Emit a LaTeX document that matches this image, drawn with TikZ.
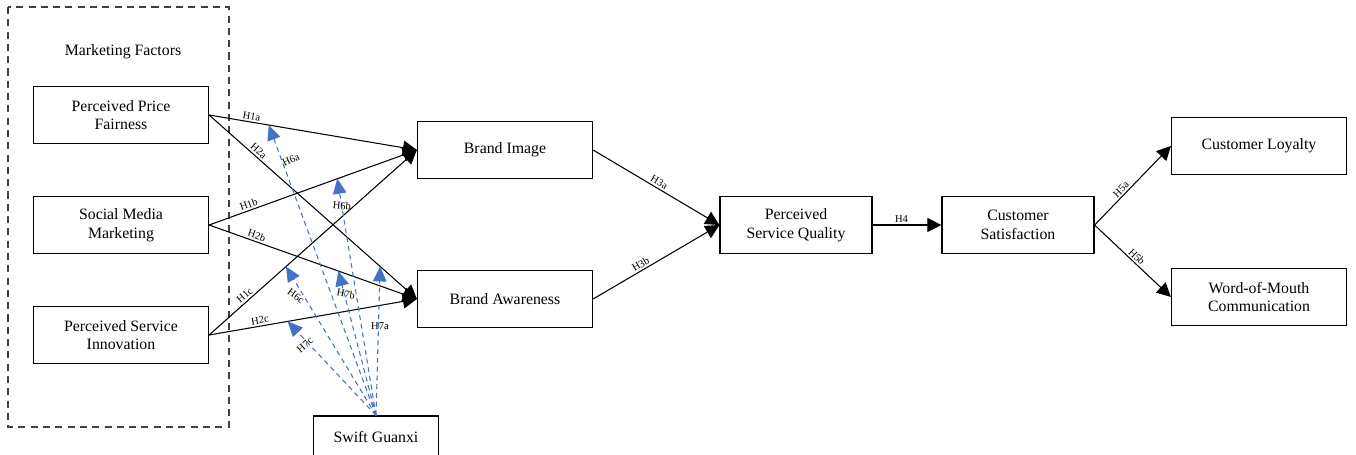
\documentclass[tikz,border=0pt]{standalone}
\usepackage{fontspec}
\setmainfont{Liberation Serif}
\usetikzlibrary{arrows.meta}
\definecolor{guanxi}{HTML}{4472C4}

\begin{document}
\begin{tikzpicture}[x=0.02cm, y=-0.02cm,
    box/.style={draw, line width=0.7pt, minimum width=3.5cm, minimum height=1.14cm,
      align=center, inner sep=2pt, font=\fontsize{9}{10.5}\selectfont},
    link/.style={-{Triangle[length=0.28cm,width=0.28cm]}, line width=0.6pt},
    modarrow/.style={draw=guanxi, dash pattern=on 2.8pt off 2.2pt, line width=0.6pt,
      -{Triangle[length=0.3cm,width=0.27cm]}},
    hlab/.style={font=\fontsize{6}{7}\selectfont, sloped, above, inner sep=1pt},
    mlab/.style={font=\fontsize{6}{7}\selectfont, inner sep=1pt}]
  \useasboundingbox (0,0) rectangle (1356,454);
  % 虚线框：营销因素
  \draw[darkgray, line width=0.75pt, dash pattern=on 4pt off 3pt] (8,7) rectangle (229,427);
  \node[font=\fontsize{9}{10.5}\selectfont] (mf) at (123,52) {Marketing Factors};
  % 各变量方框
  \node[box] (ppf) at (121,115) {Perceived Price\\Fairness};
  \node[box] (smm) at (121,225) {Social Media\\Marketing};
  \node[box] (psi) at (121,335) {Perceived Service\\Innovation};
  \node[box] (bi) at (505,150) {Brand Image};
  \node[box] (ba) at (505,299) {Brand Awareness};
  \node[box, minimum width=3.04cm] (psq) at (796,225) {Perceived\\Service Quality};
  \node[box, minimum width=3.04cm] (cs) at (1018,225) {Customer\\Satisfaction};
  \node[box] (cl) at (1259,146) {Customer Loyalty};
  \node[box] (wom) at (1259,297) {Word-of-Mouth\\Communication};
  \node[box, minimum width=2.5cm, minimum height=0.84cm] (sg) at (376,437) {Swift Guanxi};
  % H1、H2：营销因素 -> 品牌形象 / 品牌认知
  \draw[link] (ppf.east) -- node[hlab, pos=0.2] {H1a} coordinate[pos=0.287] (m1a) (bi.west);
  \draw[link] (smm.east) -- node[hlab, pos=0.2] {H1b} coordinate[pos=0.617] (m1b) (bi.west);
  \draw[link] (psi.east) -- node[hlab, pos=0.19] {H1c} coordinate[pos=0.37] (m1c) (bi.west);
  \draw[link] (ppf.east) -- node[hlab, pos=0.22] {H2a} coordinate[pos=0.823] (m2a) (ba.west);
  \draw[link] (smm.east) -- node[hlab, pos=0.22] {H2b} coordinate[pos=0.622] (m2b) (ba.west);
  \draw[link] (psi.east) -- node[hlab, pos=0.25] {H2c} coordinate[pos=0.378] (m2c) (ba.west);
  % H3 -- H5
  \draw[link] (bi.east) -- node[hlab, pos=0.5] {H3a} (psq.west);
  \draw[link] (ba.east) -- node[hlab, pos=0.4] {H3b} (psq.west);
  \draw[link] (psq.east) -- node[hlab, pos=0.42] {H4} (cs.west);
  \draw[link] (cs.east) -- node[hlab, pos=0.4] {H5a} (cl.west);
  \draw[link] (cs.east) -- node[hlab, pos=0.5] {H5b} (wom.west);
  % 调节作用：Swift Guanxi（蓝色虚线）
  \draw[modarrow] (sg.north) -- (m1a);
  \draw[modarrow] (sg.north) -- (m1b);
  \draw[modarrow] (sg.north) -- (m1c);
  \draw[modarrow] (sg.north) -- (m2a);
  \draw[modarrow] (sg.north) -- (m2b);
  \draw[modarrow] (sg.north) -- (m2c);
  \node[mlab, rotate=25] (l6a) at (291,160) {H6a};
  \node[mlab, rotate=-5] (l6b) at (342,206) {H6b};
  \node[mlab, rotate=-35] (l6c) at (296,296) {H6c};
  \node[mlab] (l7a) at (380,326) {H7a};
  \node[mlab, rotate=-10] (l7b) at (346,294) {H7b};
  \node[mlab, rotate=40] (l7c) at (305,345) {H7c};
\end{tikzpicture}
\end{document}
